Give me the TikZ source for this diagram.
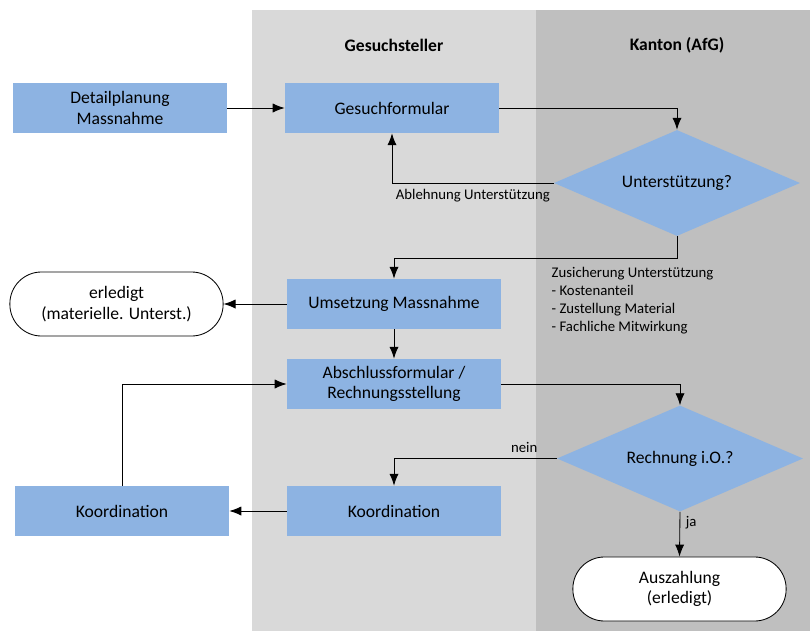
\documentclass[tikz,border=0pt]{standalone}
\usepackage{fontspec}
\setmainfont{Carlito}
\usetikzlibrary{shapes.geometric,arrows.meta}
\definecolor{boxblue}{HTML}{8DB3E2}
\definecolor{lanelight}{HTML}{D9D9D9}
\definecolor{lanedark}{HTML}{BFBFBF}
\newcommand{\mainsize}{\fontsize{12.5}{14.5}\selectfont}
\newcommand{\notesize}{\fontsize{10.5}{12.8}\selectfont}

\begin{document}
\begin{tikzpicture}[x=0.025cm,y=-0.025cm,
    proc/.style={fill=boxblue,minimum width=5.35cm,minimum height=1.25cm,align=center,inner sep=2pt,font=\mainsize},
    decision/.style={diamond,aspect=2.3,fill=boxblue,minimum width=6.15cm,minimum height=2.65cm,inner sep=0pt,font=\mainsize},
    term/.style={draw,fill=white,line width=0.6pt,rounded corners=0.79cm,minimum width=5.33cm,minimum height=1.6cm,align=center,font=\mainsize},
    lanehead/.style={font=\mainsize\bfseries},
    note/.style={font=\notesize,inner sep=1pt},
    flow/.style={draw,line width=0.6pt,-{Latex[length=8.5pt,width=6.5pt]}}]
    \useasboundingbox (0,0) rectangle (810,631);
    \fill[lanelight] (252,10) rectangle (536,631);
    \fill[lanedark] (536,10) rectangle (810,631);
    \node[lanehead] (hgesuch) at (394,45) {Gesuchsteller};
    \node[lanehead] (hkanton) at (677,45) {Kanton (AfG)};
    \node[proc] (detail) at (120,108) {Detailplanung\\Massnahme};
    \node[proc] (gesuch) at (392,108) {Gesuchformular};
    \node[decision] (unter) at (677,183) {Unterstützung?};
    \node[proc] (umsetz) at (394,304) {Umsetzung Massnahme};
    \node[term] (erl) at (116.5,304) {erledigt\\(materielle. Unterst.)};
    \node[proc] (abschl) at (394,384) {Abschlussformular /\\Rechnungsstellung};
    \node[decision] (rechn) at (680,458.5) {Rechnung i.O.?};
    \node[proc] (koord2) at (394,511) {Koordination};
    \node[proc] (koord1) at (122,511) {Koordination};
    \node[term] (ausz) at (679.5,589) {Auszahlung\\(erledigt)};
    \node[note,anchor=north west,align=left] (zusich) at (550,266) {Zusicherung Unterstützung\\- Kostenanteil\\- Zustellung Material\\- Fachliche Mitwirkung};
    \coordinate (split) at (677,258);
    \draw[flow] (detail) -- (gesuch);
    \draw[flow] (gesuch.east) -| (unter.north);
    \draw[flow] (unter.west) -| node[note,pos=0.25,below=3pt] {Ablehnung Unterstützung} (gesuch.south);
    \draw[flow] (unter.south) -- (split) -| (umsetz.north);
    \draw[flow] (umsetz) -- (erl);
    \draw[flow] (umsetz) -- (abschl);
    \draw[flow] (abschl.east) -| (rechn.north);
    \draw[flow] (rechn.west) -| node[note,pos=0.1,above=3pt] {nein} (koord2.north);
    \draw[flow] (rechn.south) -- node[note,pos=0.25,right=3pt] {ja} (ausz.north);
    \draw[flow] (koord2) -- (koord1);
    \draw[flow] (koord1.north) |- (abschl.west);
\end{tikzpicture}
\end{document}
